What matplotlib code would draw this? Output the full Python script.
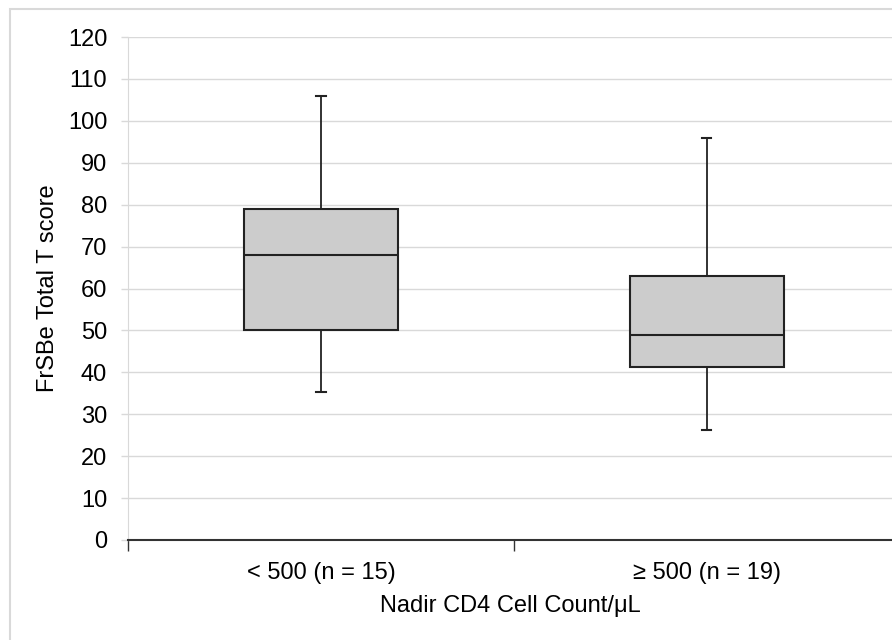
import matplotlib.pyplot as plt
from matplotlib.patches import Rectangle

plt.rcParams['font.family'] = ['Liberation Sans', 'DejaVu Sans']

groups = ["< 500 (n = 15)", "≥ 500 (n = 19)"]
whisker_low = [35.2, 26.3]
q1 = [50.1, 41.3]
median = [68, 48.9]
q3 = [78.9, 63.1]
whisker_high = [106, 96]

stats = []
for i in range(len(groups)):
    stats.append({'label': groups[i], 'whislo': whisker_low[i], 'q1': q1[i],
                  'med': median[i], 'q3': q3[i], 'whishi': whisker_high[i]})

fig = plt.figure(figsize=(8.92, 6.4), dpi=100)
# light grey frame around the chart area
fig.patches.append(Rectangle((10 / 892, -0.1), 1.2, 1 - 9 / 640 + 0.1, transform=fig.transFigure,
                             fill=False, edgecolor='#d9d9d9', linewidth=1.5))
ax = fig.add_axes([128 / 892, 100 / 640, 1 - 128 / 892, 503 / 640])

ax.bxp(stats, positions=[0, 1], widths=0.4, patch_artist=True, showfliers=False,
       boxprops=dict(facecolor='#cccccc', edgecolor='#222222', linewidth=1.5),
       medianprops=dict(color='#222222', linewidth=1.5),
       whiskerprops=dict(color='#222222', linewidth=1.3),
       capprops=dict(color='#222222', linewidth=1.5),
       capwidths=0.024, zorder=3)

ax.set_ylim(0, 120)
ax.set_yticks(range(0, 121, 10))
ax.set_xlim(-0.5, 1.48)
ax.set_xticks([-0.5, 0.5])
ax.set_xticklabels([])
ax.set_xticks([0, 1], minor=True)
ax.set_xticklabels(groups, minor=True)
ax.tick_params(axis='x', which='minor', length=0, pad=16, labelsize=17)
ax.tick_params(axis='x', which='major', length=8, width=1, color='#333333')
ax.tick_params(axis='y', length=5, width=1, color='#d9d9d9', labelsize=17, pad=10)

ax.grid(axis='y', color='#d9d9d9', linewidth=1, zorder=0)
ax.set_axisbelow(True)
for s in ['top', 'right']:
    ax.spines[s].set_visible(False)
ax.spines['left'].set_color('#d9d9d9')
ax.spines['bottom'].set_color('#333333')
ax.spines['bottom'].set_linewidth(1.5)

ax.set_ylabel('FrSBe Total T score', fontsize=17, labelpad=6)
ax.set_xlabel('Nadir CD4 Cell Count/μL', fontsize=17, labelpad=8)

fig.savefig('out.png', dpi=100)
